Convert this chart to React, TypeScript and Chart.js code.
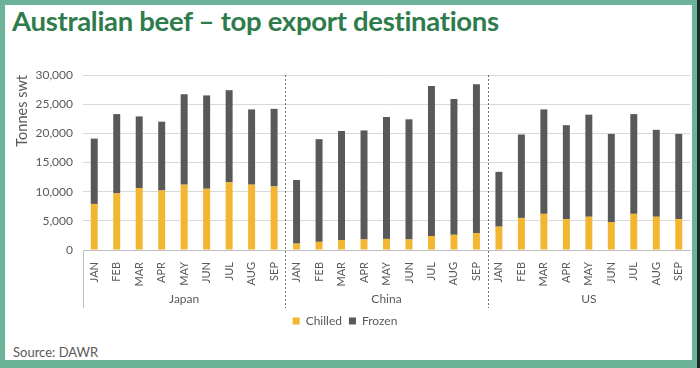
import React, { useEffect, useRef } from "react";
import { Chart, registerables } from "chart.js";

Chart.register(...registerables);

const months = ["JAN", "FEB", "MAR", "APR", "MAY", "JUN", "JUL", "AUG", "SEP"];
const countries = ["Japan", "China", "US"];

const japanTotal = [19100, 23300, 22900, 22000, 26700, 26500, 27400, 24100, 24200];
const japanChilled = [7900, 9700, 10600, 10200, 11200, 10500, 11600, 11200, 10900];
const chinaTotal = [12000, 19000, 20400, 20500, 22800, 22400, 28100, 25900, 28400];
const chinaChilled = [1100, 1400, 1700, 1800, 1900, 1800, 2400, 2600, 2900];
const usTotal = [13400, 19800, 24100, 21400, 23200, 19900, 23300, 20600, 19900];
const usChilled = [4000, 5500, 6200, 5300, 5700, 4800, 6200, 5700, 5300];

const yTicks = [0, 5000, 10000, 15000, 20000, 25000, 30000];

const chilled = [...japanChilled, ...chinaChilled, ...usChilled];
const totals = [...japanTotal, ...chinaTotal, ...usTotal];
const frozen = totals.map((t, i) => t - chilled[i]);
const labels = countries.flatMap(() => months);
const groupLabels = countries.flatMap((c) => months.map((_, i) => (i === 4 ? c : "")));

const FONT = "Lato, 'Open Sans', sans-serif";
const TEXT = "#595959";

const separatorPlugin = {
  id: "separators",
  afterDraw(chart: any) {
    const { ctx, chartArea } = chart;
    const x = chart.scales.x;
    const x2 = chart.scales.x2;
    const bottom = x2.bottom;
    ctx.save();
    ctx.strokeStyle = "#bfbfbf";
    ctx.lineWidth = 1;
    ctx.beginPath();
    ctx.moveTo(Math.round(chartArea.left) + 0.5, chartArea.bottom);
    ctx.lineTo(Math.round(chartArea.left) + 0.5, bottom);
    ctx.stroke();
    ctx.strokeStyle = "#6f6f6f";
    ctx.setLineDash([2, 2]);
    for (let g = 1; g < countries.length; g++) {
      const i = g * months.length;
      const px = Math.round((x.getPixelForValue(i - 1) + x.getPixelForValue(i)) / 2) + 0.5;
      ctx.beginPath();
      ctx.moveTo(px, chartArea.top);
      ctx.lineTo(px, bottom);
      ctx.stroke();
    }
    ctx.restore();
  },
};

export default function App() {
  const ref = useRef<HTMLCanvasElement>(null);
  useEffect(() => {
    if (!ref.current) return;
    const chart = new Chart(ref.current, {
      type: "bar",
      data: {
        labels,
        datasets: [
          { label: "Chilled", data: chilled, backgroundColor: "#f2b630", xAxisID: "x" },
          { label: "Frozen", data: frozen, backgroundColor: "#595959", xAxisID: "x" },
        ],
      },
      plugins: [separatorPlugin],
      options: {
        animation: false,
        responsive: false,
        maintainAspectRatio: false,
        datasets: { bar: { barPercentage: 0.31, categoryPercentage: 1 } },
        layout: { padding: { top: 75, right: 10, left: 0, bottom: 31 } },
        plugins: {
          tooltip: { enabled: false },
          legend: {
            position: "bottom",
            labels: {
              boxWidth: 7,
              boxHeight: 7,
              padding: 7,
              color: TEXT,
              font: { family: FONT, size: 12 },
            },
          },
        },
        scales: {
          x: {
            stacked: true,
            grid: { display: false },
            border: { display: true, color: "#bfbfbf" },
            ticks: {
              autoSkip: false,
              minRotation: 90,
              maxRotation: 90,
              padding: 4,
              color: TEXT,
              font: { family: FONT, size: 11 },
            },
            afterFit: (s: any) => {
              s.height = 40;
            },
          },
          x2: {
            type: "category",
            position: "bottom",
            labels: groupLabels,
            grid: { display: false, drawTicks: false },
            border: { display: false },
            ticks: {
              autoSkip: false,
              maxRotation: 0,
              minRotation: 0,
              padding: 2,
              color: TEXT,
              font: { family: FONT, size: 12 },
            },
            afterFit: (s: any) => {
              s.height = 18;
            },
          },
          y: {
            stacked: true,
            min: 0,
            max: 30000,
            afterBuildTicks: (s: any) => {
              s.ticks = yTicks.map((v) => ({ value: v }));
            },
            afterFit: (s: any) => {
              s.width = 83;
            },
            grid: { color: "#d9d9d9", drawTicks: false },
            border: { display: false },
            title: {
              display: true,
              text: "Tonnes swt",
              align: "end",
              color: TEXT,
              font: { family: FONT, size: 14.5 },
              padding: { top: 14, bottom: 0 },
            },
            ticks: {
              padding: 10,
              color: TEXT,
              font: { family: FONT, size: 12 },
              callback: (v: any) => Number(v).toLocaleString("en-US"),
            },
          },
        },
      },
    });
    return () => chart.destroy();
  }, []);

  return (
    <div
      style={{
        position: "absolute",
        left: 0,
        top: 0,
        width: 700,
        height: 368,
        background: "#6db39a",
        overflow: "hidden",
      }}
    >
      <div style={{ position: "absolute", left: 697, top: 0, width: 3, height: 368, background: "#1e2b26" }} />
      <div
        style={{
          position: "absolute",
          left: 5,
          top: 5,
          width: 687,
          height: 355,
          background: "#ffffff",
        }}
      />
      <div
        style={{
          position: "absolute",
          left: 12,
          top: 4,
          fontFamily: FONT,
          fontWeight: 700,
          fontSize: 27.5,
          color: "#2e7b4c",
          whiteSpace: "nowrap",
          letterSpacing: -0.3,
        }}
      >
        Australian beef – top export destinations
      </div>
      <div
        style={{
          position: "absolute",
          left: 13,
          top: 344,
          fontFamily: FONT,
          fontSize: 13,
          color: "#595959",
          whiteSpace: "nowrap",
        }}
      >
        Source: DAWR
      </div>
      <canvas
        ref={ref}
        width={700}
        height={368}
        style={{ position: "absolute", left: 0, top: 0, width: 700, height: 368 }}
      />
    </div>
  );
}
